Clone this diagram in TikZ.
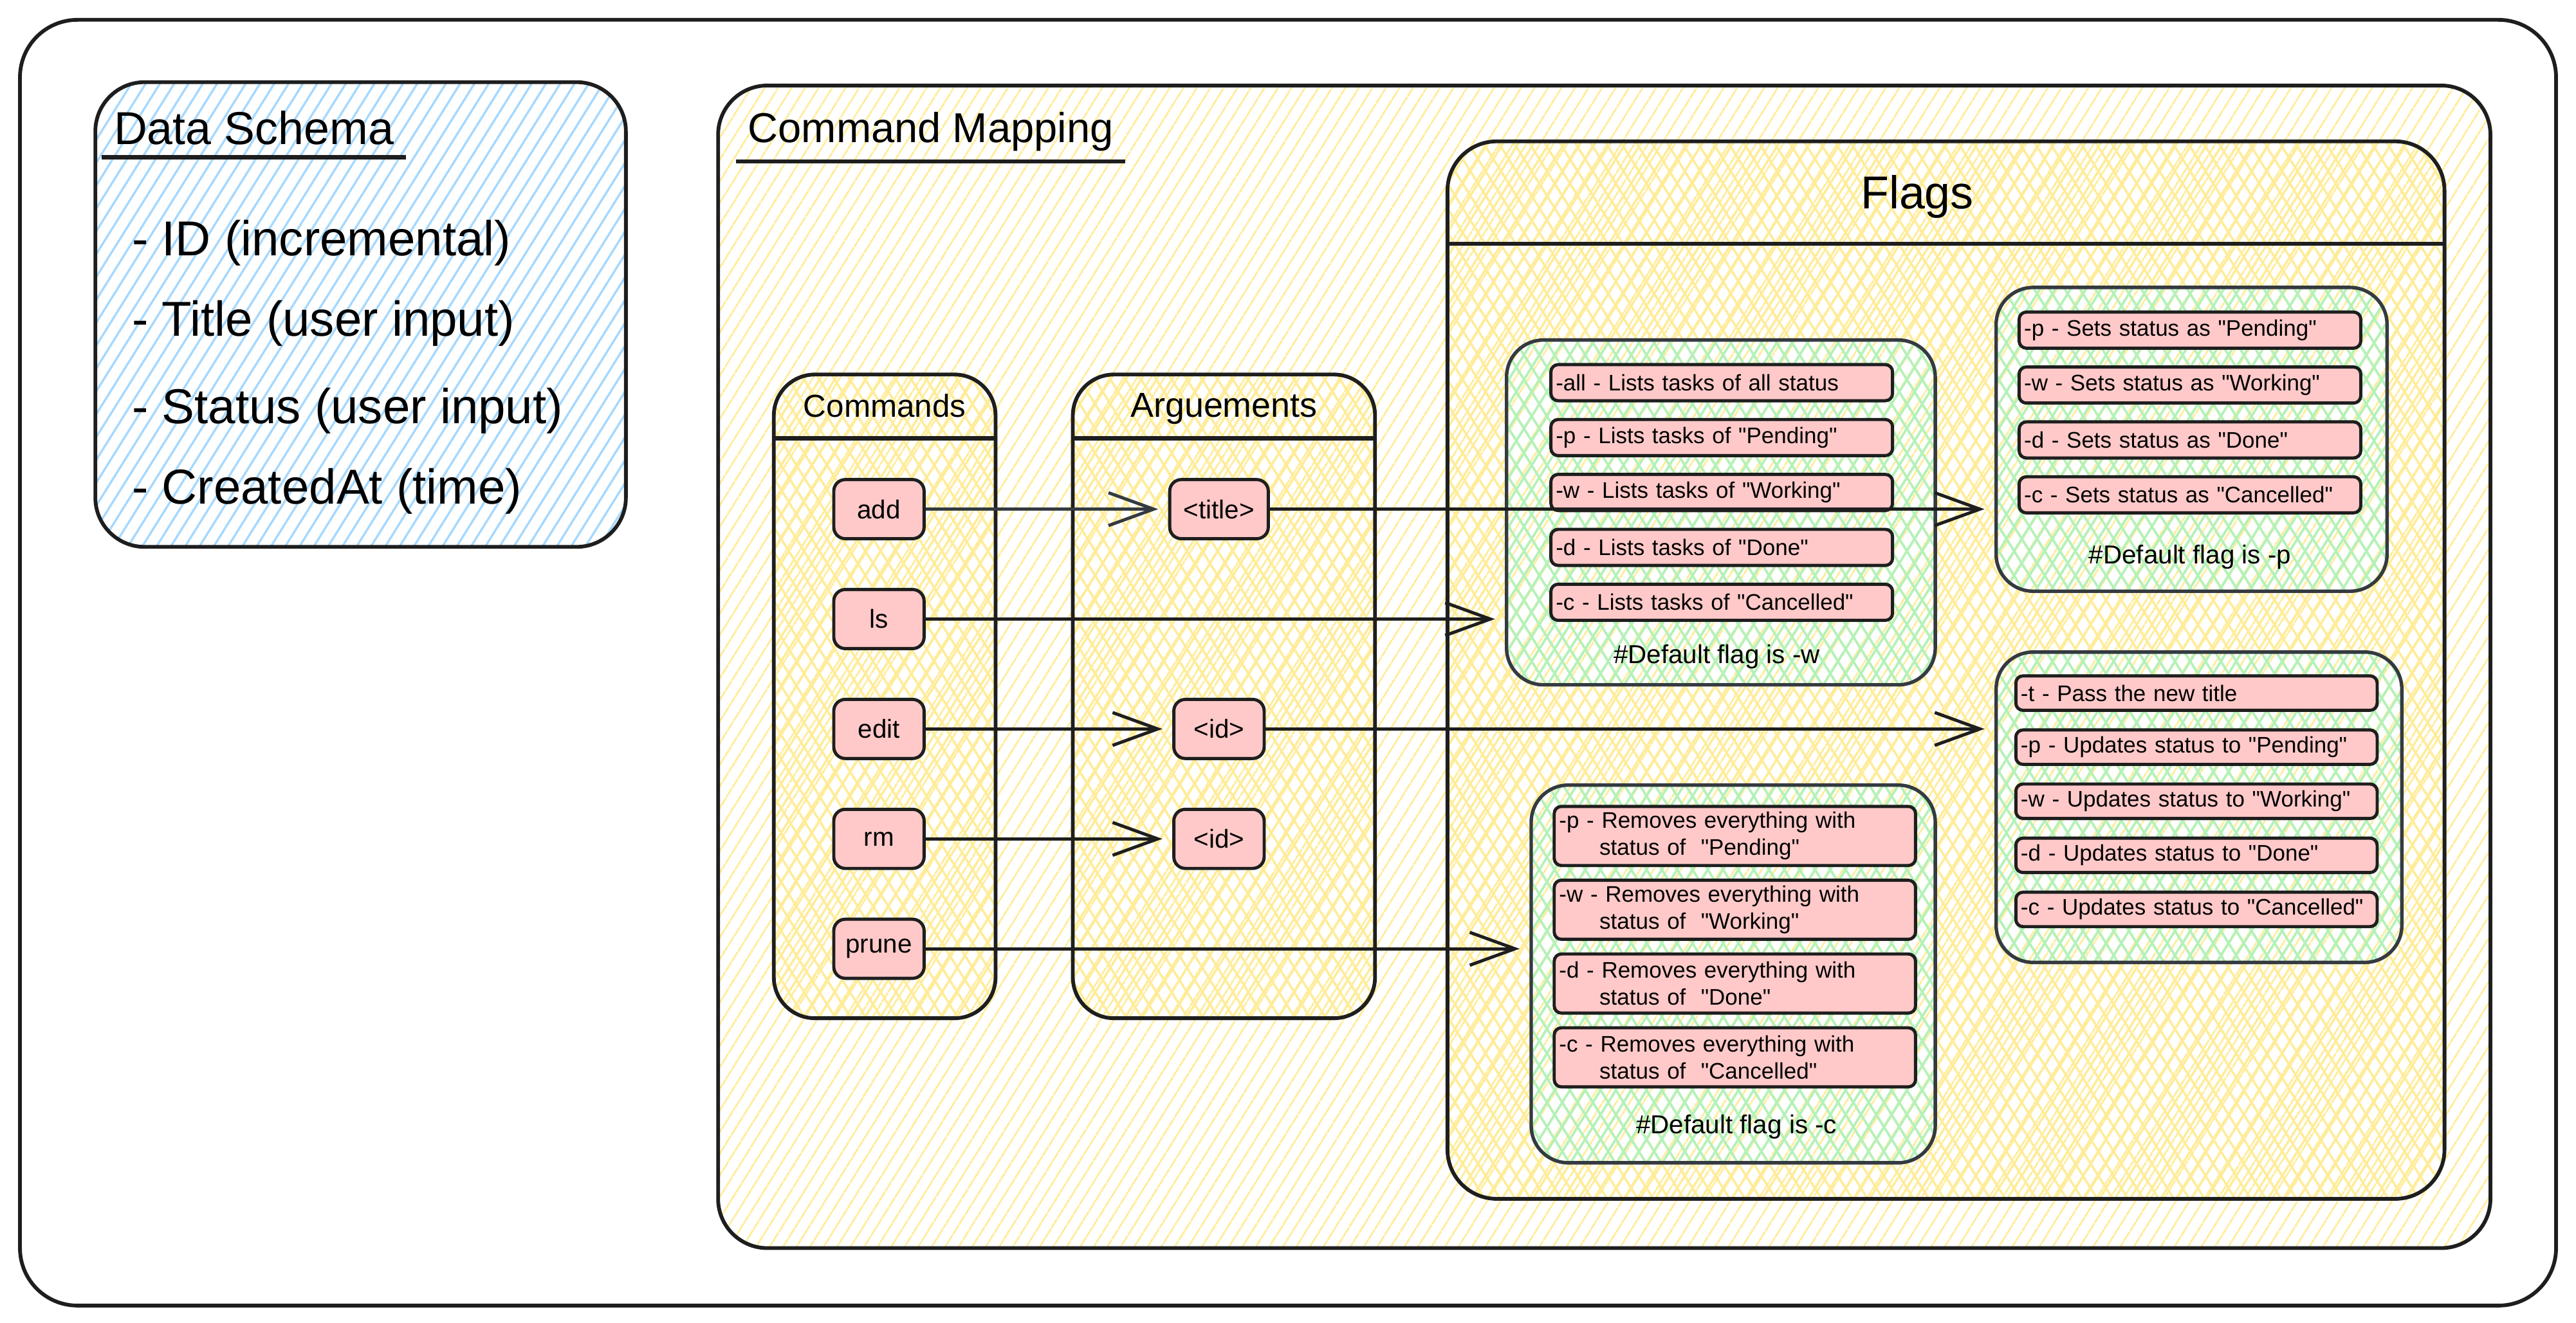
\documentclass[tikz,border=0pt]{standalone}
\usepackage{fontspec}
\setmainfont{Liberation Sans}[Ligatures=TeXOff]
\usetikzlibrary{positioning,arrows.meta,patterns.meta}
\definecolor{ink}{HTML}{1E1E1E}
\definecolor{slate}{HTML}{343A40}
\definecolor{hatchblue}{HTML}{A5D8FF}
\definecolor{hatchyellow}{HTML}{FFEC99}
\definecolor{hatchgreen}{HTML}{B2F2BB}
\definecolor{itempink}{HTML}{FFC9C9}

\begin{document}
\begin{tikzpicture}[x=0.02cm, y=-0.02cm, auto, node distance=0.19cm]
	\tikzstyle{box} = [draw=ink, line width=1.3pt, inner sep=0pt];
	\tikzstyle{hatch blue} = [pattern={Lines[angle=58, distance=4.2pt, line width=0.75pt]}, pattern color=hatchblue];
	\tikzstyle{hatch yellow} = [pattern={Lines[angle=58, distance=4pt, line width=0.7pt]}, pattern color=hatchyellow];
	\tikzstyle{cross yellow} = [preaction={pattern={Lines[angle=58, distance=4.5pt, line width=0.8pt]}, pattern color=hatchyellow}, pattern={Lines[angle=122, distance=4.5pt, line width=0.8pt]}, pattern color=hatchyellow];
	\tikzstyle{cross green} = [preaction={pattern={Lines[angle=58, distance=4.5pt, line width=0.8pt]}, pattern color=hatchgreen}, pattern={Lines[angle=122, distance=4.5pt, line width=0.8pt]}, pattern color=hatchgreen];
	\tikzstyle{heading} = [inner xsep=4pt, inner ysep=4pt];
	\tikzstyle{rule} = [draw=ink, line width=1.4pt];
	\tikzstyle{field} = [anchor=west, inner sep=0pt, font=\fontsize{17}{20}\selectfont];
	\tikzstyle{cmd} = [draw=ink, fill=itempink, line width=1.1pt, rounded corners=4pt, minimum height=0.72cm, inner sep=1pt, font=\fontsize{9}{11}\selectfont];
	\tikzstyle{flag} = [draw=ink, fill=itempink, line width=1.1pt, rounded corners=2.5pt, inner xsep=0.06cm, inner ysep=0pt, align=left, minimum height=0.44cm, font=\fontsize{7.8}{9.3}\selectfont];
	\tikzstyle{group} = [draw=slate, line width=1.2pt, rounded corners=0.45cm, inner sep=0pt, cross green];
	\tikzstyle{note} = [font=\fontsize{9}{11}\selectfont];
	\tikzstyle{link} = [draw=ink, line width=1.1pt, -{Straight Barb[length=5.5mm, width=4mm]}, shorten >=0.12cm];

	\useasboundingbox (0,0) rectangle (1568,805.5);

	% outer board
	\node[box, rounded corners=0.7cm, minimum width=30.88cm, minimum height=15.66cm](board) at (784,403.5){};

	% data schema
	\node[box, rounded corners=0.6cm, minimum width=6.46cm, minimum height=5.66cm, hatch blue](schema) at (219.5,191.5){};
	\node[heading, anchor=west, font=\fontsize{16}{19}\selectfont](schema title) at (62,78){Data Schema};
	\draw[rule] (schema title.south west) -- (schema title.south east);
	\node[field](field id) at (80,148){- ID (incremental)};
	\node[field](field title) at (80,197){- Title (user input)};
	\node[field](field status) at (80,250){- Status (user input)};
	\node[field](field created) at (80,299){- CreatedAt (time)};

	% command mapping
	\node[box, rounded corners=0.6cm, minimum width=21.58cm, minimum height=14.16cm, hatch yellow](mapping) at (976.5,406){};
	\node[heading, anchor=west, inner ysep=3.5pt, font=\fontsize{14.5}{17}\selectfont](mapping title) at (448,80){Command Mapping};
	\draw[rule] (mapping title.south west) -- (mapping title.south east);

	\node[box, rounded corners=0.6cm, minimum width=12.14cm, minimum height=12.88cm, cross yellow](flags) at (1184.5,408){};
	\node[font=\fontsize{16}{19}\selectfont](flags title) at (1167,120){Flags};
	\draw[rule] ([yshift=-1.26cm]flags.north west) -- ([yshift=-1.26cm]flags.north east);

	\node[box, rounded corners=0.5cm, minimum width=2.7cm, minimum height=7.84cm, cross yellow](commands) at (538.5,424){};
	\node[font=\fontsize{11}{13}\selectfont] at ([yshift=-0.4cm]commands.north){Commands};
	\draw[rule] ([yshift=-0.8cm]commands.north west) -- ([yshift=-0.8cm]commands.north east);

	\node[box, rounded corners=0.5cm, minimum width=3.68cm, minimum height=7.84cm, cross yellow](arguements) at (745,424){};
	\node[font=\fontsize{12}{14}\selectfont] at ([yshift=-0.44cm]arguements.north){Arguements};
	\draw[rule] ([yshift=-0.8cm]arguements.north west) -- ([yshift=-0.8cm]arguements.north east);

	% commands and arguements
	\node[cmd, minimum width=1.1cm](add) at (535,310){add};
	\node[cmd, minimum width=1.1cm, below = 0.58cm of add](ls){ls};
	\node[cmd, minimum width=1.1cm, below = 0.58cm of ls](edit){edit};
	\node[cmd, minimum width=1.1cm, below = 0.58cm of edit](rm){rm};
	\node[cmd, minimum width=1.1cm, below = 0.58cm of rm](prune){prune};
	\node[cmd, minimum width=1.2cm](arg title) at (742,310){<title>};
	\node[cmd, minimum width=1.1cm](arg id1) at (edit -| arg title){<id>};
	\node[cmd, minimum width=1.1cm](arg id2) at (rm -| arg title){<id>};

	% flag groups
	\node[group, minimum width=5.22cm, minimum height=4.2cm](list group) at (1047.5,312){};
	\node[flag, text width=4.04cm](list all) at (1048,233){-all - Lists tasks of all status};
	\node[flag, text width=4.04cm, below = of list all](list p){-p - Lists tasks of "Pending"};
	\node[flag, text width=4.04cm, below = of list p](list w){-w - Lists tasks of "Working"};
	\node[flag, text width=4.04cm, below = of list w](list d){-d - Lists tasks of "Done"};
	\node[flag, text width=4.04cm, below = of list d](list c){-c - Lists tasks of "Cancelled"};
	\node[note](list default) at (1045,400){\#Default flag is -w};

	\node[group, minimum width=4.76cm, minimum height=3.7cm](set group) at (1334,267.5){};
	\node[flag, text width=4.04cm](set p) at (1333,201){-p - Sets status as "Pending"};
	\node[flag, text width=4.04cm, below = of set p](set w){-w - Sets status as "Working"};
	\node[flag, text width=4.04cm, below = of set w](set d){-d - Sets status as "Done"};
	\node[flag, text width=4.04cm, below = of set d](set c){-c - Sets status as "Cancelled"};
	\node[note](set default) at (1333,339){\#Default flag is -p};

	\node[group, minimum width=4.94cm, minimum height=3.78cm](edit group) at (1338.5,491.5){};
	\node[flag, text width=4.28cm, minimum height=0.42cm](edit t) at (1337,422){-t - Pass the new title};
	\node[flag, text width=4.28cm, minimum height=0.42cm, below = 0.2cm of edit t](edit p){-p - Updates status to "Pending"};
	\node[flag, text width=4.28cm, minimum height=0.42cm, below = 0.2cm of edit p](edit w){-w - Updates status to "Working"};
	\node[flag, text width=4.28cm, minimum height=0.42cm, below = 0.2cm of edit w](edit d){-d - Updates status to "Done"};
	\node[flag, text width=4.28cm, minimum height=0.42cm, below = 0.2cm of edit d](edit c){-c - Updates status to "Cancelled"};

	\node[group, minimum width=4.92cm, minimum height=4.6cm](remove group) at (1055,593){};
	\node[flag, text width=4.28cm, minimum height=0.72cm](remove p) at (1056,509){-p - Removes everything with\\\hspace*{14pt}status of\ \ "Pending"};
	\node[flag, text width=4.28cm, minimum height=0.72cm, below = 0.14cm of remove p](remove w){-w - Removes everything with\\\hspace*{14pt}status of\ \ "Working"};
	\node[flag, text width=4.28cm, minimum height=0.72cm, below = 0.14cm of remove w](remove d){-d - Removes everything with\\\hspace*{14pt}status of\ \ "Done"};
	\node[flag, text width=4.28cm, minimum height=0.72cm, below = 0.14cm of remove d](remove c){-c - Removes everything with\\\hspace*{14pt}status of\ \ "Cancelled"};
	\node[note](remove default) at (1057,686){\#Default flag is -c};

	% connectors
	\path[link, draw=slate] (add) edge (arg title);
	\path[link] (arg title) edge (arg title -| set group.west)
	(ls) edge (ls -| list group.west)
	(edit) edge (arg id1)
	(arg id1) edge (arg id1 -| edit group.west)
	(rm) edge (arg id2)
	(prune) edge (prune -| remove group.west);
\end{tikzpicture}
\end{document}
